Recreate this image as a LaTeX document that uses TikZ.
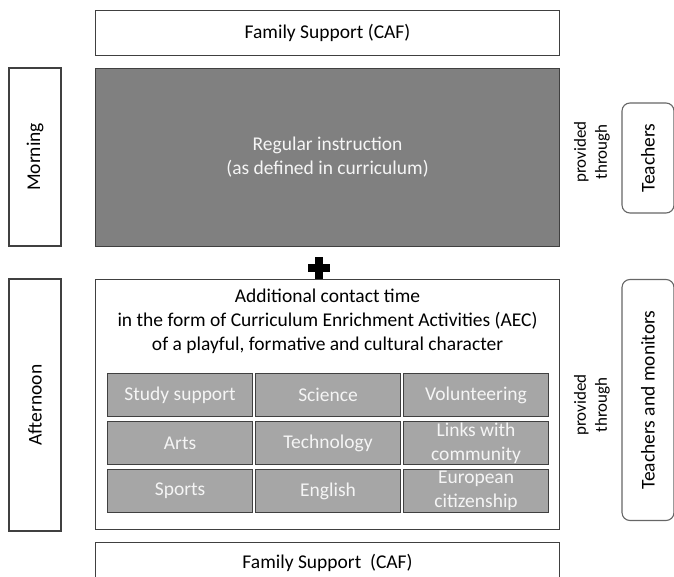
\documentclass[tikz,border=0pt]{standalone}
\usepackage{fontspec}
\setmainfont{Carlito}
\usepackage{tikz}
\usetikzlibrary{positioning}
\definecolor{boxline}{gray}{.25}
\definecolor{darkfill}{gray}{.5}
\definecolor{cellfill}{gray}{.65}
\definecolor{lighttext}{gray}{.96}
\newcommand{\widthmain}{464pt}
\newcommand{\widthside}{52pt}
\newcommand{\widthcell}{145pt}
\newcommand{\heightcell}{43pt}
\newcommand{\bigfont}{\fontsize{19.5}{24}\selectfont}
\newcommand{\smallfont}{\fontsize{17}{21}\selectfont}
\tikzset{
    common/.style={draw=boxline, line width=1.1pt, rectangle, inner sep=0pt, align=center, font=\bigfont},
    mainbox/.style={common, anchor=north west, minimum width=\widthmain},
    sidebox/.style={common, rotate=90, minimum height=\widthside},
    handbox/.style={sidebox, rounded corners=8pt, draw=boxline!80},
    cell/.style={common, anchor=north west, fill=cellfill, text=lighttext, minimum width=\widthcell, minimum height=\heightcell},
    through/.style={rotate=90, align=center, font=\smallfont, inner sep=0pt}
}

\begin{document}
\begin{tikzpicture}[x=1pt, y=-1pt]
    \clip (0,0) rectangle (674,577);
    \useasboundingbox (0,0) rectangle (674,577);

    % morning
    \node[mainbox, minimum height=45pt] (famtop) at (95,10) {Family Support (CAF)};
    \node[mainbox, minimum height=178pt, fill=darkfill, text=lighttext] (regular) at (95,68)
        {Regular instruction\\(as defined in curriculum)};
    \node[sidebox, minimum width=178pt] (morning) at (35,157) {Morning};
    \node[through] (through1) at (592,152) {provided\\through};
    \node[handbox, minimum width=110pt] (teachers) at (648,158) {Teachers};

    % plus
    \coordinate (plus) at (318.5,267.5);
    \fill (plus) ++(-11,-4) rectangle ++(22,8);
    \fill (plus) ++(-4,-11) rectangle ++(8,22);

    % afternoon
    \node[mainbox, minimum height=250pt] (aec) at (95,279) {};
    \node[below=10pt of aec.north, align=center, font=\bigfont, inner sep=0pt] (aechead)
        {Additional contact time\\in the form of Curriculum Enrichment Activities (AEC)\\of a playful, formative and cultural character};
    \foreach \name [count=\i from 0] in {Study support, Science, Volunteering,
            Arts, Technology, {Links with\\community},
            Sports, English, {European\\citizenship}} {
        \pgfmathtruncatemacro{\col}{mod(\i,3)}
        \pgfmathtruncatemacro{\row}{div(\i,3)}
        \node[cell] (cell-\row-\col) at (107+148*\col, 373+48*\row) {\name};
    }
    \node[sidebox, minimum width=252pt] (afternoon) at (35,405) {Afternoon};
    \node[through] (through2) at (592,405) {provided\\through};
    \node[handbox, minimum width=241pt] (teachmon) at (648,400) {Teachers and monitors};

    \node[mainbox, minimum height=40pt] (fambot) at (95,542) {Family Support~~(CAF)};
\end{tikzpicture}
\end{document}
